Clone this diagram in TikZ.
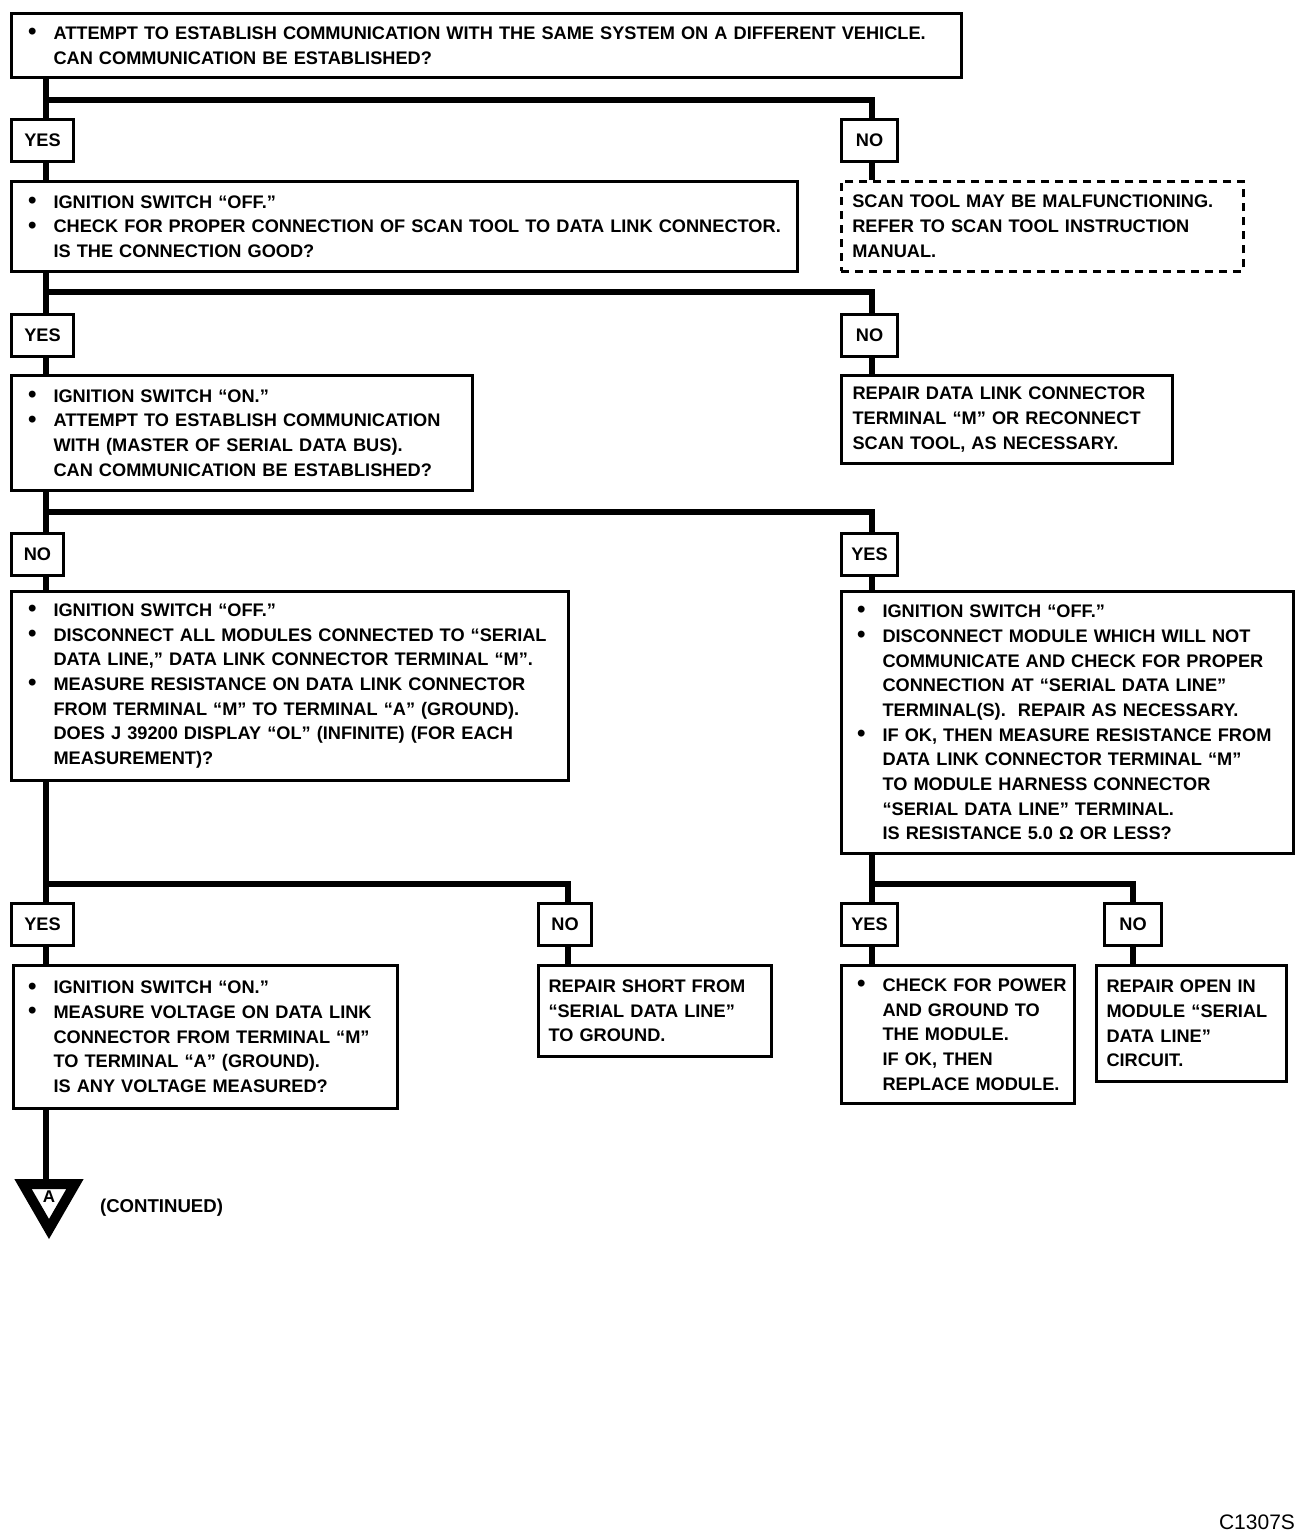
\documentclass[tikz,border=0pt]{standalone}
\usepackage{fontspec}
\setmainfont{Liberation Sans}
\usetikzlibrary{shapes.geometric}

\newcommand{\bul}{\leavevmode\llap{\smash{\raisebox{-0.02em}{\large\textbullet}}\hspace{8.5pt}}}
\newcommand{\steptext}[2]{\leftskip=#1\relax #2\par}

\tikzset{
  box/.style={draw, line width=1.5pt, anchor=north west, inner xsep=0pt, inner ysep=0pt,
    align=left, font=\bfseries\fontsize{9.1}{12.35}\selectfont},
  dbox/.style={box, line width=1.3pt, dash pattern=on 4pt off 3pt},
  ans/.style={draw, line width=1.5pt, anchor=north west, inner sep=0pt, minimum height=21pt,
    font=\bfseries\fontsize{9.1}{10}\selectfont},
  link/.style={line width=2.6pt}
}

\begin{document}
\begin{tikzpicture}[x=0.5pt,y=-0.5pt]
	\useasboundingbox (0,0) rectangle (1312,1540);
	% branch lines
	\coordinate (L) at (46,0);
	\coordinate (R) at (872,0);
	\coordinate (M) at (568,0);
	\coordinate (RR) at (1133,0);

	% first question
	\node[box, text width=475pt, minimum height=32pt] (q1) at (10,12)
	  {\steptext{21pt}{\bul ATTEMPT TO ESTABLISH COMMUNICATION WITH THE SAME SYSTEM ON A DIFFERENT VEHICLE.\\
	   CAN COMMUNICATION BE ESTABLISHED?}};
	\node[ans, minimum width=31pt] (y1) at (10,118) {YES};
	\node[ans, minimum width=28pt] (n1) at (840,118) {NO};

	\node[box, text width=393pt, minimum height=45pt] (q2) at (10,180)
	  {\steptext{21pt}{\bul IGNITION SWITCH “OFF.”\\
	   \bul CHECK FOR PROPER CONNECTION OF SCAN TOOL TO DATA LINK CONNECTOR.\\
	   IS THE CONNECTION GOOD?}};
	\node[dbox, text width=201pt, minimum height=45pt] (s1) at (840,180)
	  {\steptext{5.5pt}{SCAN TOOL MAY BE MALFUNCTIONING.\\
	   REFER TO SCAN TOOL INSTRUCTION\\
	   MANUAL.}};
	\node[ans, minimum width=31pt] (y2) at (10,313) {YES};
	\node[ans, minimum width=28pt] (n2) at (840,313) {NO};

	\node[box, text width=230.5pt, minimum height=57.5pt] (q3) at (10,374)
	  {\steptext{21pt}{\bul IGNITION SWITCH “ON.”\\
	   \bul ATTEMPT TO ESTABLISH COMMUNICATION\\
	   WITH (MASTER OF SERIAL DATA BUS).\\
	   CAN COMMUNICATION BE ESTABLISHED?}};
	\node[box, text width=165.5pt, minimum height=44pt] (r1) at (840,374)
	  {\steptext{5.5pt}{REPAIR DATA LINK CONNECTOR\\
	   TERMINAL “M” OR RECONNECT\\
	   SCAN TOOL, AS NECESSARY.}};
	\node[ans, minimum width=26pt] (n3) at (10,532) {NO};
	\node[ans, minimum width=28pt] (y3) at (840,532) {YES};

	\node[box, text width=278.5pt, minimum height=94.5pt] (q4) at (10,590)
	  {\steptext{21pt}{\bul IGNITION SWITCH “OFF.”\\
	   \bul DISCONNECT ALL MODULES CONNECTED TO “SERIAL\\
	   DATA LINE,” DATA LINK CONNECTOR TERMINAL “M”.\\
	   \bul MEASURE RESISTANCE ON DATA LINK CONNECTOR\\
	   FROM TERMINAL “M” TO TERMINAL “A” (GROUND).\\
	   DOES J 39200 DISPLAY “OL” (INFINITE) (FOR EACH\\
	   MEASUREMENT)?}};
	\node[box, text width=226pt, minimum height=131pt] (q5) at (840,590)
	  {\steptext{20.5pt}{\bul IGNITION SWITCH “OFF.”\\
	   \bul DISCONNECT MODULE WHICH WILL NOT\\
	   COMMUNICATE AND CHECK FOR PROPER\\
	   CONNECTION AT “SERIAL DATA LINE”\\
	   TERMINAL(S).\ \ REPAIR AS NECESSARY.\\
	   \bul IF OK, THEN MEASURE RESISTANCE FROM\\
	   DATA LINK CONNECTOR TERMINAL “M”\\
	   TO MODULE HARNESS CONNECTOR\\
	   “SERIAL DATA LINE” TERMINAL.\\
	   IS RESISTANCE 5.0 Ω OR LESS?}};
	\node[ans, minimum width=31pt] (y4) at (10,902) {YES};
	\node[ans, minimum width=26.5pt] (n4) at (537,902) {NO};
	\node[ans, minimum width=28pt] (y5) at (840,902) {YES};
	\node[ans, minimum width=28.5pt] (n5) at (1103,902) {NO};

	\node[box, text width=192pt, minimum height=71.5pt] (q6) at (12,964)
	  {\steptext{20pt}{\bul IGNITION SWITCH “ON.”\\
	   \bul MEASURE VOLTAGE ON DATA LINK\\
	   CONNECTOR FROM TERMINAL “M”\\
	   TO TERMINAL “A” (GROUND).\\
	   IS ANY VOLTAGE MEASURED?}};
	\node[box, text width=116.5pt, minimum height=45.5pt] (r2) at (537,964)
	  {\steptext{5pt}{REPAIR SHORT FROM\\
	   “SERIAL DATA LINE”\\
	   TO GROUND.}};
	\node[box, text width=116.5pt, minimum height=69pt] (r3) at (840,964)
	  {\steptext{20.5pt}{\bul CHECK FOR POWER\\
	   AND GROUND TO\\
	   THE MODULE.\\
	   IF OK, THEN\\
	   REPLACE MODULE.}};
	\node[box, text width=95pt, minimum height=58pt] (r4) at (1095,964)
	  {\steptext{5pt}{REPAIR OPEN IN\\
	   MODULE “SERIAL\\
	   DATA LINE”\\
	   CIRCUIT.}};

	% continuation mark
	\node[draw, line width=5pt, regular polygon, regular polygon sides=3, shape border rotate=180,
	  minimum size=30pt, inner sep=0pt, font=\bfseries\fontsize{8.5}{8.5}\selectfont] (cA) at (49,1199)
	  {\raisebox{2pt}{A}};
	\node[anchor=west, font=\bfseries\fontsize{9.3}{10}\selectfont] (cont) at (93,1208) {(CONTINUED)};
	\node[anchor=east, font=\fontsize{10.5}{10}\selectfont] (fig) at (1302,1522) {C1307S};

	% vertical links
	\foreach \a/\b/\c in {q1/y1/L, y1/q2/L, n1/s1/R, q2/y2/L, y2/q3/L, n2/r1/R,
	  q3/n3/L, n3/q4/L, y3/q5/R, q4/y4/L, y4/q6/L, n4/r2/M, q5/y5/R, y5/r3/R, n5/r4/RR}
	  \draw[link] (\a.south -| \c) -- (\b.north -| \c);
	\draw[link] (q6.south -| L) -- (cA.north -| L);
	% horizontal bars
	\draw[link] (L |- 0,100) -| (n1.north -| R);
	\draw[link] (L |- 0,292) -| (n2.north -| R);
	\draw[link] (L |- 0,512) -| (y3.north -| R);
	\draw[link] (L |- 0,884) -| (n4.north -| M);
	\draw[link] (R |- 0,884) -| (n5.north -| RR);
\end{tikzpicture}
\end{document}
